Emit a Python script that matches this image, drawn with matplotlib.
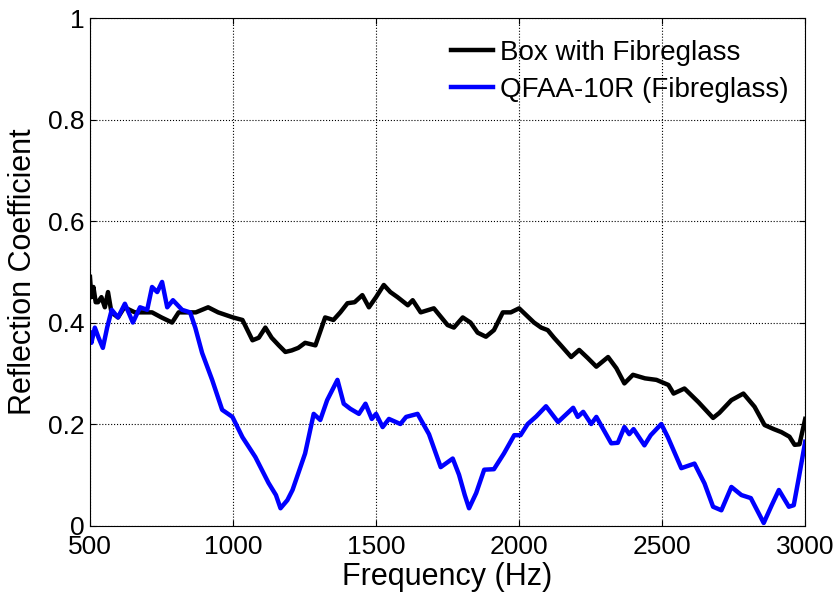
import matplotlib
matplotlib.use("Agg")
import matplotlib.pyplot as plt

plt.rcParams['font.family'] = ['Liberation Sans', 'DejaVu Sans']

# Box with Fibreglass (black)
box_f = [500, 505, 512, 520, 528, 540, 552, 563, 575, 598, 620, 657, 690, 717, 750, 787,
         810, 832, 870, 913, 948, 1000, 1033, 1068, 1090, 1113, 1135, 1160, 1183, 1205,
         1228, 1252, 1288, 1322, 1351, 1375, 1400, 1425, 1452, 1475, 1500, 1527, 1550,
         1575, 1611, 1628, 1656, 1702, 1750, 1772, 1803, 1830, 1855, 1884, 1912, 1943,
         1971, 2000, 2052, 2077, 2100, 2122, 2146, 2182, 2210, 2240, 2270, 2311, 2340,
         2368, 2398, 2440, 2480, 2522, 2540, 2578, 2627, 2678, 2700, 2742, 2784, 2823,
         2858, 2890, 2917, 2945, 2963, 2980, 3000]
box_r = [0.49, 0.45, 0.47, 0.44, 0.44, 0.45, 0.43, 0.46, 0.42, 0.41, 0.43, 0.42, 0.42, 0.42,
         0.41, 0.40, 0.42, 0.42, 0.42, 0.43, 0.42, 0.41, 0.405, 0.365, 0.37, 0.39, 0.37,
         0.355, 0.342, 0.345, 0.35, 0.36, 0.355, 0.41, 0.405, 0.42, 0.438, 0.44, 0.454,
         0.43, 0.45, 0.474, 0.46, 0.45, 0.434, 0.444, 0.42, 0.428, 0.395, 0.39, 0.41, 0.40,
         0.38, 0.372, 0.385, 0.42, 0.42, 0.428, 0.40, 0.39, 0.385, 0.37, 0.355, 0.332,
         0.346, 0.33, 0.313, 0.332, 0.31, 0.28, 0.297, 0.29, 0.287, 0.277, 0.26, 0.27,
         0.243, 0.212, 0.222, 0.247, 0.26, 0.234, 0.198, 0.19, 0.184, 0.175, 0.159, 0.16,
         0.21]

# QFAA-10R (Fibreglass) (blue)
qfaa_f = [500, 505, 517, 530, 545, 560, 576, 598, 622, 650, 675, 700, 717, 735, 752, 770,
          790, 822, 850, 868, 892, 927, 962, 998, 1033, 1078, 1124, 1150, 1166, 1190, 1208,
          1252, 1282, 1305, 1329, 1365, 1387, 1410, 1440, 1463, 1485, 1500, 1523, 1545,
          1585, 1605, 1645, 1685, 1726, 1768, 1790, 1810, 1825, 1850, 1878, 1912, 1947,
          1983, 2005, 2030, 2060, 2094, 2136, 2189, 2205, 2224, 2252, 2270, 2322, 2345,
          2368, 2385, 2400, 2438, 2460, 2497, 2520, 2567, 2613, 2648, 2678, 2707, 2742,
          2777, 2810, 2855, 2883, 2908, 2943, 2960, 2978, 3000]
qfaa_r = [0.38, 0.36, 0.39, 0.37, 0.35, 0.39, 0.425, 0.41, 0.437, 0.40, 0.43, 0.425, 0.47,
          0.46, 0.48, 0.43, 0.444, 0.425, 0.42, 0.39, 0.34, 0.287, 0.228, 0.214, 0.174,
          0.135, 0.084, 0.06, 0.034, 0.05, 0.07, 0.142, 0.22, 0.208, 0.247, 0.287, 0.24,
          0.23, 0.22, 0.24, 0.21, 0.22, 0.194, 0.21, 0.20, 0.214, 0.22, 0.18, 0.115, 0.132,
          0.10, 0.06, 0.034, 0.064, 0.11, 0.111, 0.142, 0.178, 0.178, 0.20, 0.215, 0.235,
          0.204, 0.232, 0.214, 0.224, 0.20, 0.214, 0.162, 0.163, 0.194, 0.18, 0.19, 0.158,
          0.178, 0.20, 0.174, 0.113, 0.122, 0.083, 0.037, 0.03, 0.076, 0.06, 0.054, 0.005,
          0.04, 0.07, 0.037, 0.04, 0.095, 0.165]

fig = plt.figure(figsize=(8.37, 5.93), dpi=100)
ax = fig.add_axes([0.1075, 0.1138, 0.8545, 0.8558])

ax.plot(box_f, box_r, color='black', linewidth=3.2, label='Box with Fibreglass')
ax.plot(qfaa_f, qfaa_r, color='blue', linewidth=3.2, label='QFAA-10R (Fibreglass)')

ax.set_xlim(500, 3000)
ax.set_ylim(0, 1)
ax.set_xticks([500, 1000, 1500, 2000, 2500, 3000])
ax.set_yticks([0, 0.2, 0.4, 0.6, 0.8, 1])
ax.set_yticklabels(['0', '0.2', '0.4', '0.6', '0.8', '1'])
ax.grid(True, color='black', linestyle=':', linewidth=0.8)
ax.tick_params(direction='in', top=True, right=True, labelsize=19, length=4.5)
ax.tick_params(axis='x', pad=7)
ax.tick_params(axis='y', pad=4)
for s in ax.spines.values():
    s.set_linewidth(0.8)

ax.set_xlabel('Frequency (Hz)', fontsize=22)
ax.set_ylabel('Reflection Coefficient', fontsize=22)
ax.xaxis.set_label_coords(0.5, -0.072)
ax.yaxis.set_label_coords(-0.072, 0.5)

ax.legend(loc='upper right', frameon=False, fontsize=20, handlelength=1.5,
          handletextpad=0.25, labelspacing=0.4, borderaxespad=0.2,
          bbox_to_anchor=(1.0, 0.99))

fig.savefig('out.png', dpi=100)
